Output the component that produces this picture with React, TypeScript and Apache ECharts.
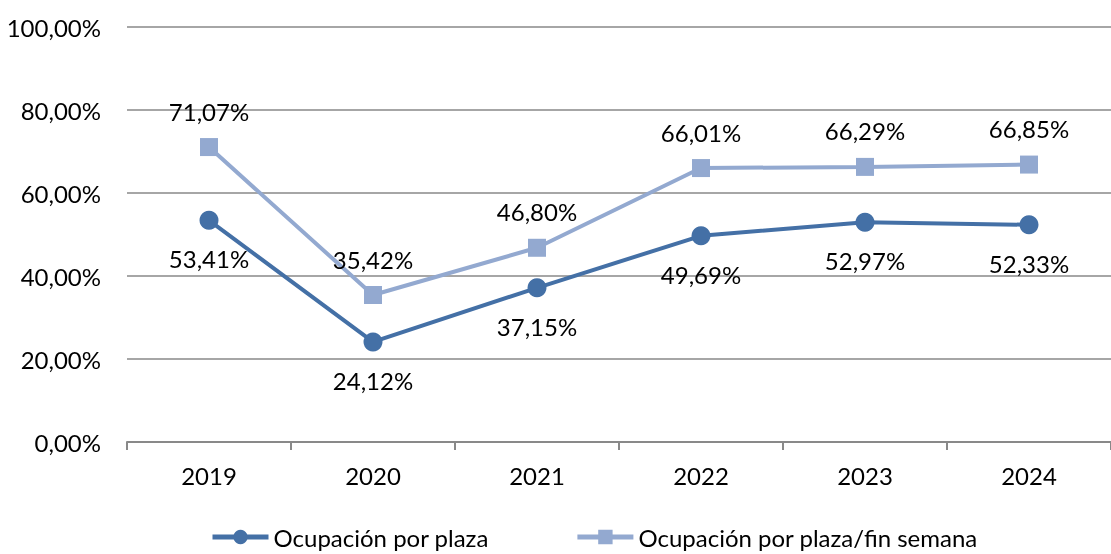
import React, { useEffect, useRef } from "react";
import * as echarts from "echarts";

const categories = ["2019", "2020", "2021", "2022", "2023", "2024"];
const ocupacionPlaza = [53.41, 24.12, 37.15, 49.69, 52.97, 52.33];
const ocupacionFinSemana = [71.07, 35.42, 46.8, 66.01, 66.29, 66.85];
const seriesNames = ["Ocupación por plaza", "Ocupación por plaza/fin semana"];

const fmt = (v: number) => v.toFixed(2).replace(".", ",") + "%";
const FONT = "Lato";
const FS = 24;

export default function App() {
  const ref = useRef<HTMLDivElement>(null);
  useEffect(() => {
    if (!ref.current) return;
    const chart = echarts.init(ref.current, null, { renderer: "svg" });
    chart.setOption({
      animation: false,
      textStyle: { fontFamily: FONT },
      grid: { left: 127, right: -6, top: 27, bottom: 112 },
      legend: {
        left: 205,
        top: 520,
        itemWidth: 56,
        itemHeight: 18,
        itemGap: 86,
        lineStyle: { width: 5 },
        textStyle: { fontSize: FS, color: "#000", fontFamily: FONT },
        data: seriesNames,
      },
      xAxis: {
        type: "category",
        data: categories,
        boundaryGap: true,
        axisLine: { lineStyle: { color: "#898989", width: 2 } },
        axisTick: { show: true, length: 8, lineStyle: { color: "#898989", width: 2 } },
        axisLabel: { fontSize: FS, color: "#000", margin: 21, fontFamily: FONT },
        splitLine: { show: false },
      },
      yAxis: {
        type: "value",
        min: 0,
        max: 100,
        interval: 20,
        axisLine: { show: false },
        axisTick: { show: false },
        axisLabel: {
          fontSize: FS,
          color: "#000",
          margin: 26,
          fontFamily: FONT,
          formatter: (v: number) => fmt(v),
        },
        splitLine: { lineStyle: { color: "#898989", width: 1.5 } },
      },
      series: [
        {
          name: seriesNames[0],
          type: "line",
          data: ocupacionPlaza,
          symbol: "circle",
          symbolSize: 19,
          lineStyle: { color: "#4470a6", width: 4 },
          itemStyle: { color: "#4470a6" },
          label: {
            show: true,
            position: "bottom",
            distance: 17,
            fontSize: FS,
            color: "#000",
            fontFamily: FONT,
            formatter: (p: any) => fmt(p.value),
          },
          z: 3,
        },
        {
          name: seriesNames[1],
          type: "line",
          data: ocupacionFinSemana,
          symbol: "rect",
          symbolSize: 18,
          lineStyle: { color: "#93a9d0", width: 4 },
          itemStyle: { color: "#93a9d0" },
          label: {
            show: true,
            position: "top",
            distance: 15,
            fontSize: FS,
            color: "#000",
            fontFamily: FONT,
            formatter: (p: any) => fmt(p.value),
          },
          z: 2,
        },
      ],
    });
    return () => chart.dispose();
  }, []);
  return (
    <div
      ref={ref}
      style={{ position: "fixed", left: 0, top: 0, width: 1111, height: 554 }}
    />
  );
}
